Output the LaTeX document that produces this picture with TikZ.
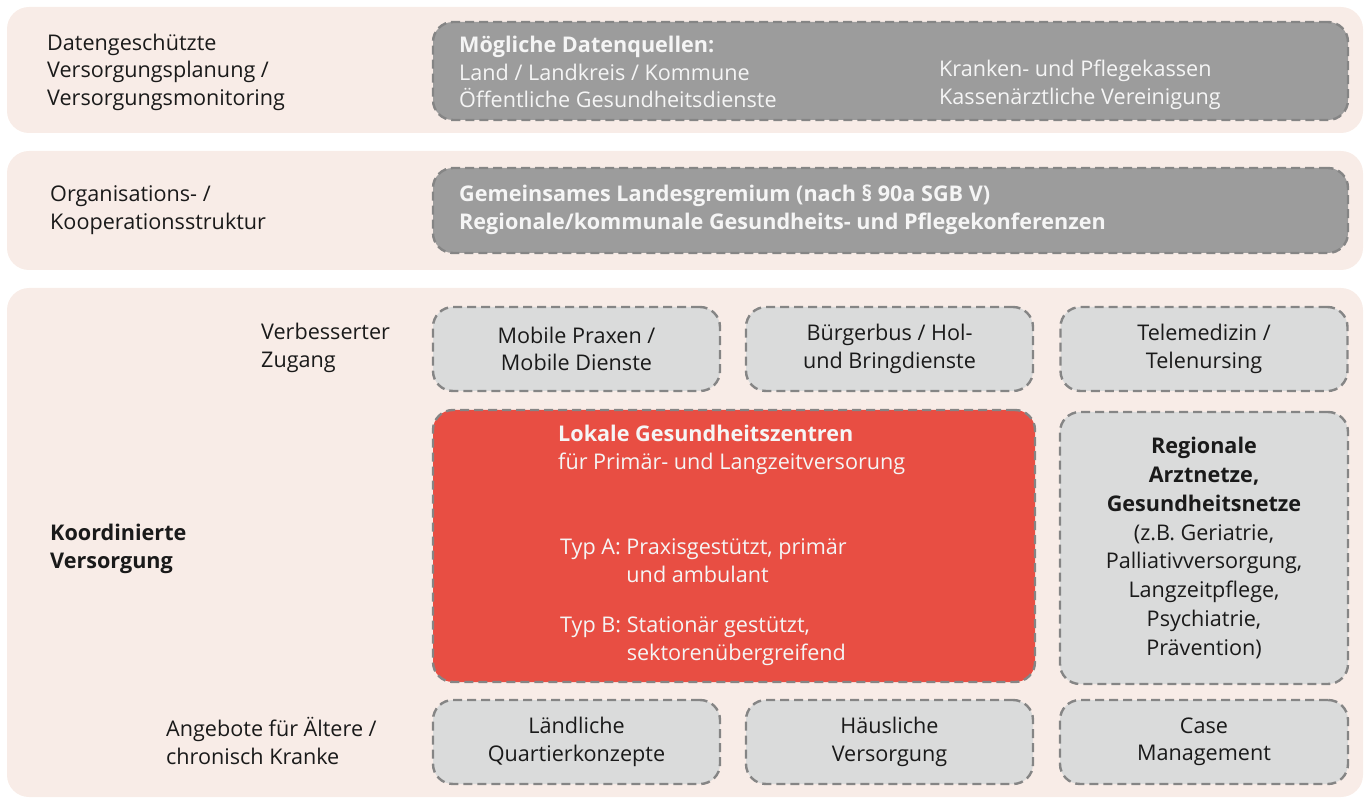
\documentclass[tikz,border=0pt]{standalone}
\usepackage{fontspec}
\setmainfont{Open Sans}
\usetikzlibrary{positioning}
\definecolor{bandbg}{HTML}{F8ECE7}
\definecolor{darkbox}{HTML}{9C9C9C}
\definecolor{lightbox}{HTML}{DADBDB}
\definecolor{boxedge}{HTML}{858585}
\definecolor{lgzred}{HTML}{E84E43}
\definecolor{paletext}{HTML}{F5F5F5}
\definecolor{inktext}{HTML}{1A1A1A}

\begin{document}
\begin{tikzpicture}[x=1pt,y=-1pt,
    band/.style={fill=bandbg,rounded corners=22pt},
    box/.style={rectangle,draw=boxedge,line width=2.4pt,dash pattern=on 9pt off 5pt,
      rounded corners=20pt,inner sep=0pt},
    dbox/.style={box,fill=darkbox},
    lbox/.style={box,fill=lightbox,align=center,text=inktext,
      minimum width=287pt,minimum height=84pt},
    lbl/.style={align=left,anchor=west,inner sep=0pt,text=inktext},
    wtxt/.style={align=left,anchor=west,inner sep=0pt,text=paletext},
    every node/.style={font=\fontsize{21.6}{27.5}\selectfont}]
  \useasboundingbox (0,0) rectangle (1366,799);
  % bands
  \fill[band] (7,7) rectangle (1363,133);
  \fill[band] (7,151) rectangle (1363,270);
  \fill[band] (7,288) rectangle (1363,797);
  % planning row
  \node[lbl] (plan) at (47,72) {Datengeschützte\\Versorgungsplanung /\\Versorgungsmonitoring};
  \node[dbox,minimum width=915pt,minimum height=98pt] (src) at (890.5,71) {};
  \node[wtxt] (srcl) at (459,72)
    {\textbf{Mögliche Datenquellen:}\\Land / Landkreis / Kommune\\Öffentliche Gesundheitsdienste};
  \node[wtxt] (srcr) at (939,85) {Kranken- und Pflegekassen\\Kassenärztliche Vereinigung};
  % organisation row
  \node[lbl] (orga) at (50,210) {Organisations- /\\Kooperationsstruktur};
  \node[dbox,minimum width=915pt,minimum height=85pt] (org) at (890.5,210.5) {};
  \node[wtxt,font=\fontsize{21.6}{27.5}\selectfont\bfseries] (orgt) at (459,210)
    {Gemeinsames Landesgremium (nach § 90a SGB V)\\
     Regionale/kommunale Gesundheits- und Pflegekonferenzen};
  % coordinated care
  \node[lbl] (zug) at (261,348) {Verbesserter\\Zugang};
  \node[lbl,font=\fontsize{21.6}{27.5}\selectfont\bfseries] (koord) at (50,549)
    {Koordinierte\\Versorgung};
  \node[lbl] (alt) at (166,741) {Angebote für Ältere /\\chronisch Kranke};
  \node[lbox] (mob) at (576.5,349) {Mobile Praxen /\\Mobile Dienste};
  \node[lbox] (bus) at (889.5,349) {Bürgerbus / Hol-\\und Bringdienste};
  \node[lbox] (tele) at (1204,349) {Telemedizin /\\Telenursing};
  \node[box,fill=lgzred,minimum width=602pt,minimum height=272pt] (lgz) at (734,546) {};
  \node[wtxt] (lgzt) at (558,450)
    {\textbf{Lokale Gesundheitszentren}\\für Primär- und Langzeitversorung};
  \node[wtxt] (typa) at (560,563)
    {\begin{tabular}{@{}l@{ }l@{}}Typ A:&Praxisgestützt, primär\\&und ambulant\end{tabular}};
  \node[wtxt] (typb) at (560,641)
    {\begin{tabular}{@{}l@{ }l@{}}Typ B:&Stationär gestützt,\\&sektorenübergreifend\end{tabular}};
  \node[lbox,minimum width=288pt,minimum height=272pt,
        font=\fontsize{21.6}{28.8}\selectfont] (reg) at (1204,548)
    {\textbf{Regionale}\\\textbf{Arztnetze,}\\\textbf{Gesundheitsnetze}\\(z.B. Geriatrie,\\
     Palliativversorgung,\\Langzeitpflege,\\Psychiatrie,\\Prävention)};
  \node[lbox] (quart) at (576.5,742) {Ländliche\\Quartierkonzepte};
  \node[lbox] (haus) at (889.5,742) {Häusliche\\Versorgung};
  \node[lbox,minimum width=288pt] (case) at (1204,742) {Case\\Management};
\end{tikzpicture}
\end{document}
